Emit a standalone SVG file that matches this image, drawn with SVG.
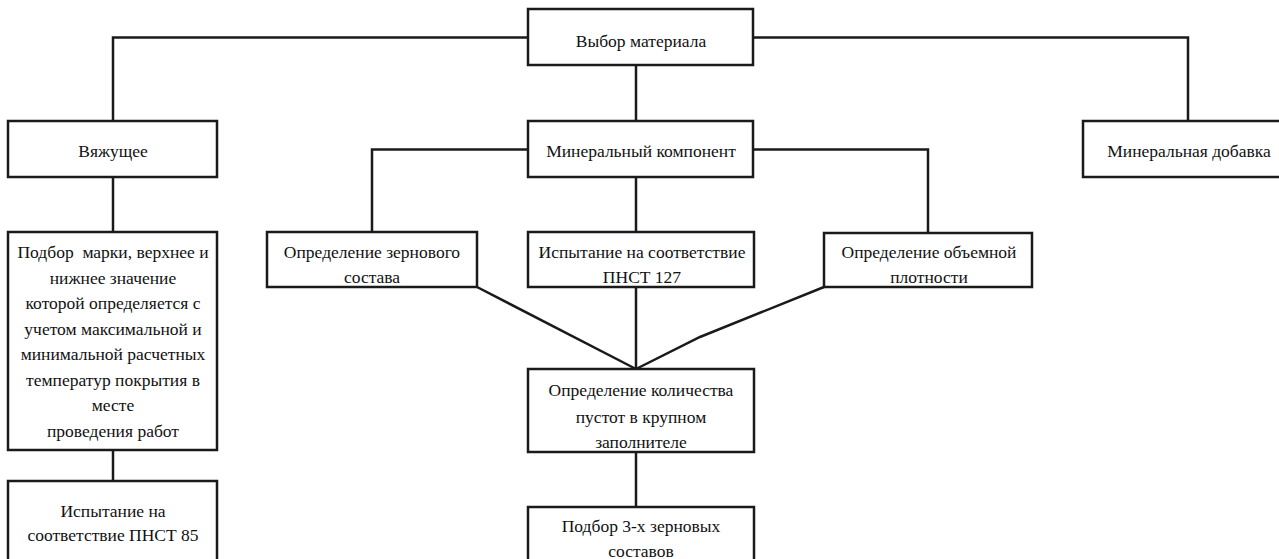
<svg xmlns="http://www.w3.org/2000/svg" width="1279" height="559" viewBox="0 0 1279 559" font-family="'Liberation Serif', 'Noto Serif', 'DejaVu Serif', Times, serif">
<style>
.box{fill:#fff;stroke:#1a1a1a;stroke-width:2.5}
.ln{fill:none;stroke:#1a1a1a;stroke-width:2.5}
.t{font-family:'Liberation Serif','Noto Serif','DejaVu Serif',Times,serif;font-size:17.5px;fill:#111;text-anchor:middle}
</style>
<rect width="1279" height="559" fill="#fff"/>
<g id="connectors">
<polyline class="ln" points="528,37.5 113,37.5 113,121"/>
<polyline class="ln" points="753,37.5 1188,37.5 1188,121"/>
<line class="ln" x1="636" y1="65" x2="636" y2="121"/>
<polyline class="ln" points="528,149.5 372,149.5 372,232"/>
<polyline class="ln" points="753,149.5 928,149.5 928,233"/>
<line class="ln" x1="636" y1="177" x2="636" y2="232"/>
<line class="ln" x1="113" y1="177" x2="113" y2="232"/>
<line class="ln" x1="113" y1="450" x2="113" y2="481"/>
<line class="ln" x1="477" y1="287" x2="636" y2="369"/>
<line class="ln" x1="636" y1="287" x2="636" y2="369"/>
<polyline class="ln" points="824,287 700,337 636,369"/>
<line class="ln" x1="636" y1="452" x2="636" y2="507"/>
</g>
<g id="n-vybor"><rect class="box" x="528" y="9" width="225" height="56"/><text class="t" x="641" y="47">Выбор материала</text></g>
<g id="n-vyazh"><rect class="box" x="8" y="121" width="209" height="56"/><text class="t" x="113" y="157">Вяжущее</text></g>
<g id="n-minkomp"><rect class="box" x="528" y="121" width="225" height="56"/><text class="t" x="641" y="157">Минеральный компонент</text></g>
<g id="n-mindob"><rect class="box" x="1083" y="121" width="210" height="56"/><text class="t" x="1189" y="157">Минеральная добавка</text></g>
<g id="n-zern"><rect class="box" x="267" y="232" width="210" height="55"/><text class="t" x="372" y="258">Определение зернового</text><text class="t" x="372" y="283">состава</text></g>
<g id="n-pnst127"><rect class="box" x="528" y="232" width="226" height="55"/><text class="t" x="642" y="258">Испытание на соответствие</text><text class="t" x="642" y="283">ПНСТ 127</text></g>
<g id="n-plot"><rect class="box" x="824" y="233" width="208" height="54"/><text class="t" x="929" y="258">Определение объемной</text><text class="t" x="929" y="283">плотности</text></g>
<g id="n-podbor"><rect class="box" x="8" y="232" width="209" height="218"/>
<text class="t" x="113" y="258" xml:space="preserve">Подбор  марки, верхнее и</text>
<text class="t" x="113" y="284">нижнее значение</text>
<text class="t" x="113" y="309">которой определяется с</text>
<text class="t" x="113" y="335">учетом максимальной и</text>
<text class="t" x="113" y="360">минимальной расчетных</text>
<text class="t" x="113" y="386">температур покрытия в</text>
<text class="t" x="113" y="411">месте</text>
<text class="t" x="113" y="437">проведения работ</text></g>
<g id="n-pnst85"><rect class="box" x="8" y="481" width="209" height="100"/><text class="t" x="113" y="517">Испытание на</text><text class="t" x="113" y="541">соответствие ПНСТ 85</text></g>
<g id="n-pustot"><rect class="box" x="528" y="369" width="226" height="83"/><text class="t" x="641" y="396">Определение количества</text><text class="t" x="641" y="423">пустот в крупном</text><text class="t" x="641" y="448">заполнителе</text></g>
<g id="n-podbor3"><rect class="box" x="528" y="507" width="226" height="80"/><text class="t" x="641" y="532">Подбор 3-х зерновых</text><text class="t" x="641" y="557">составов</text></g>
</svg>
